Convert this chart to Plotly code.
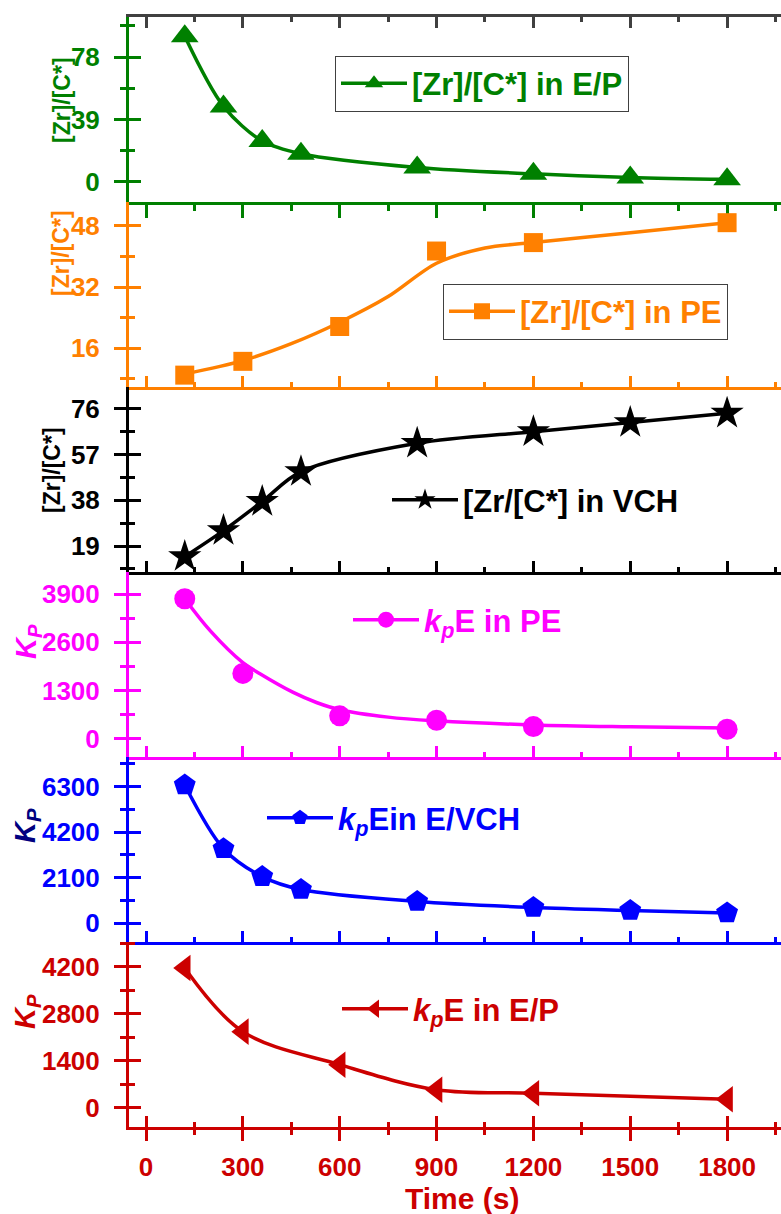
import plotly.graph_objects as go

# ---------------- data ----------------
time_zr_ep = [120, 240, 360, 480, 840, 1200, 1500, 1800]
zr_ep = [91.0, 47.2, 25.5, 17.6, 9.0, 5.0, 2.8, 1.6]

time_zr_pe = [120, 300, 600, 900, 1200, 1800]
zr_pe = [9.0, 12.6, 21.7, 41.4, 43.6, 48.8]
fit_time_zr_pe = [120, 300, 450, 600, 750, 900, 1050, 1200, 1500, 1800]
fit_zr_pe = [9.3, 12.8, 17.2, 22.8, 29.5, 38.2, 42.2, 43.6, 46.2, 48.8]

time_zr_vch = [120, 240, 360, 480, 840, 1200, 1500, 1800]
zr_vch = [14.6, 25.4, 37.5, 49.9, 61.7, 66.5, 70.3, 74.2]

time_kp_pe = [120, 300, 600, 900, 1200, 1800]
kp_pe = [3775, 1760, 615, 495, 325, 254]
fit_time_kp_pe = [120, 200, 300, 353, 456, 528, 600, 750, 900, 1200, 1500, 1800]
fit_kp_pe = [3775, 2900, 2050, 1750, 1246, 975, 780, 580, 480, 370, 318, 285]

time_kp_vch = [120, 240, 360, 480, 840, 1200, 1500, 1800]
kp_vch = [6370, 3432, 2146, 1549, 997, 721, 584, 469]

time_kp_ep = [120, 300, 600, 900, 1200, 1800]
kp_ep = [4161, 2270, 1287, 542, 438, 259]

x_tick_step = 300
y_ticks_step = [39, 16, 19, 1300, 2100, 1400]

legend_names = [
    "[Zr]/[C*] in E/P",
    "[Zr]/[C*] in PE",
    "[Zr/[C*] in VCH",
    "<i>k</i><sub><i>p</i></sub>E in PE",
    "<i>k</i><sub><i>p</i></sub>Ein E/VCH",
    "<i>k</i><sub><i>p</i></sub>E in E/P",
]
y_titles = ["[Zr]/[C*]", "[Zr]/[C*]", "[Zr]/[C*]",
            "<i>K<sub>P</sub></i>", "<i>K<sub>P</sub></i>", "<i>K<sub>P</sub></i>"]

# ---------------- style ----------------
FONT = "Liberation Sans, Arial, sans-serif"
GREEN, ORANGE, BLACK = "#008000", "#FF8000", "#000000"
MAGENTA, BLUE, RED = "#FF00FF", "#0000FF", "#CC0000"
NAVY, GREY = "#000080", "#404040"
colors = [GREEN, ORANGE, BLACK, MAGENTA, BLUE, RED]
title_colors = [GREEN, ORANGE, BLACK, MAGENTA, NAVY, RED]
symbols = ["triangle-up", "square", "star", "circle", "pentagon", "triangle-left"]
msizes = [24, 19, 25, 21, 23, 23]
smooth = [0.9, 0.9, 0.9, 1.0, 0.9, 1.0]
y_ranges = [[-12.6, 103.1], [5.9, 54.2], [8.2, 85.1],
            [-496, 4496], [-873, 7665], [-566, 4936]]
X_RANGE = [-52.7, 1967]

W, H = 781, 1214
ML, MR, MT, MB = 129, 0, 17, 87
PW, PH = W - ML - MR, H - MT - MB
LW = 3.5


def px_x(px):
    return (px - ML) / PW


def px_y(py):
    return (H - MB - py) / PH


series = [
    (time_zr_ep, zr_ep, None, None),
    (time_zr_pe, zr_pe, fit_time_zr_pe, fit_zr_pe),
    (time_zr_vch, zr_vch, None, None),
    (time_kp_pe, kp_pe, fit_time_kp_pe, fit_kp_pe),
    (time_kp_vch, kp_vch, None, None),
    (time_kp_ep, kp_ep, None, None),
]

fig = go.Figure()
layout = dict(
    width=W, height=H,
    margin=dict(l=ML, r=MR, t=MT, b=MB, pad=0),
    plot_bgcolor="white", paper_bgcolor="white",
    font=dict(family=FONT, weight="bold"),
    showlegend=True,
)

legend_pos = [  # (left px, center y px, boxed)
    (335, 83.5, True),
    (443, 311.5, True),
    (387, 500, False),
    (348, 620, False),
    (262, 818, False),
    (337, 1009, False),
]
title_pos = [(62, 100), (61, 253), (52, 470), (28, 642), (27, 825), (27, 1011)]
annotations = []

for i in range(6):
    n = i + 1
    xa = "x" if n == 1 else f"x{n}"
    ya = "y" if n == 1 else f"y{n}"
    c = colors[i]
    lg = "legend" if n == 1 else f"legend{n}"
    tx, ty, fx, fy = series[i]
    mk = dict(symbol=symbols[i], size=msizes[i], color=c, line=dict(width=0))
    if fx is None:
        fig.add_trace(go.Scatter(x=tx, y=ty, mode="lines+markers", name=legend_names[i],
                                 line=dict(color=c, width=LW, shape="spline", smoothing=smooth[i]),
                                 marker=mk, xaxis=xa, yaxis=ya, legend=lg))
    else:
        fig.add_trace(go.Scatter(x=fx, y=fy, mode="lines", showlegend=False,
                                 line=dict(color=c, width=LW, shape="spline", smoothing=smooth[i]),
                                 xaxis=xa, yaxis=ya))
        fig.add_trace(go.Scatter(x=tx, y=ty, mode="markers", showlegend=False,
                                 marker=mk, xaxis=xa, yaxis=ya))
        fig.add_trace(go.Scatter(x=[None], y=[None], mode="lines+markers", name=legend_names[i],
                                 line=dict(color=c, width=LW), marker=mk,
                                 xaxis=xa, yaxis=ya, legend=lg))
    # dummy trace for overlay y axis (inside half of crossing ticks)
    fig.add_trace(go.Scatter(x=[None], y=[None], xaxis=xa, yaxis=f"y{6 + n}",
                             showlegend=False, hoverinfo="skip"))

    dom = [(5 - i) / 6, (6 - i) / 6]
    layout["yaxis" if n == 1 else f"yaxis{n}"] = dict(
        domain=dom, anchor=xa, range=y_ranges[i], tick0=0, dtick=y_ticks_step[i],
        showgrid=False, zeroline=False, showline=True, linecolor=c, linewidth=3,
        ticks="outside", ticklen=12, tickwidth=3, tickcolor=c,
        minor=dict(dtick=y_ticks_step[i] / 2, ticks="outside", ticklen=6, tickwidth=3,
                   tickcolor=c, showgrid=False),
        tickfont=dict(family=FONT, size=26, color=c, weight="bold"),
        ticklabelstandoff=9,
    )
    layout[f"yaxis{6 + n}"] = dict(
        overlaying=ya, anchor=xa, side="left", range=y_ranges[i], tick0=0,
        dtick=y_ticks_step[i], showgrid=False, zeroline=False, showline=False,
        ticks="inside", ticklen=12, tickwidth=3, tickcolor=c, showticklabels=False,
        minor=dict(dtick=y_ticks_step[i] / 2, ticks="inside", ticklen=6, tickwidth=3,
                   tickcolor=c, showgrid=False),
    )
    xdict = dict(
        domain=[0, 1], anchor=ya, range=X_RANGE, tick0=0, dtick=x_tick_step,
        showgrid=False, zeroline=False, showline=True, linecolor=c, linewidth=3,
        tickwidth=3, tickcolor=c, showticklabels=False,
    )
    if n == 1:
        xdict.update(ticks="outside", ticklen=13,
                     minor=dict(dtick=150, ticks="outside", ticklen=6, tickwidth=3, tickcolor=c))
    elif n == 6:
        xdict.update(ticks="outside", ticklen=11, showticklabels=True,
                     tickfont=dict(family=FONT, size=26, color=c, weight="bold"),
                     ticklabelstandoff=4,
                     minor=dict(dtick=150, ticks="outside", ticklen=5, tickwidth=3, tickcolor=c))
    else:
        xdict.update(ticks="inside", ticklen=11,
                     minor=dict(dtick=150, ticks="inside", ticklen=5, tickwidth=3, tickcolor=c))
    if n > 1:
        xdict["matches"] = "x"
    layout["xaxis" if n == 1 else f"xaxis{n}"] = xdict

    lx, lyc, boxed = legend_pos[i]
    layout[lg] = dict(
        x=px_x(lx), y=px_y(lyc), xanchor="left", yanchor="middle",
        bgcolor="white" if boxed else "rgba(0,0,0,0)",
        bordercolor=GREY if boxed else "rgba(0,0,0,0)", borderwidth=1 if boxed else 0,
        font=dict(family=FONT, size=31, color=c, weight="bold"),
        itemwidth=66, itemsizing="trace", tracegroupgap=0,
    )

    tpx, tpy = title_pos[i]
    annotations.append(dict(
        xref="paper", yref="paper", x=px_x(tpx), y=px_y(tpy), xanchor="center",
        yanchor="middle", textangle=-90, showarrow=False, text=y_titles[i],
        font=dict(family=FONT, size=23 if i < 3 else 29, color=title_colors[i], weight="bold"),
    ))

# top frame line of panel 1 (dark grey, inward ticks)
fig.add_trace(go.Scatter(x=[None], y=[None], xaxis="x7", yaxis="y", showlegend=False,
                         hoverinfo="skip"))
layout["xaxis7"] = dict(
    overlaying="x", anchor="y", side="top", range=X_RANGE, tick0=0, dtick=x_tick_step,
    showgrid=False, zeroline=False, showline=True, linecolor=GREY, linewidth=3,
    ticks="inside", ticklen=11, tickwidth=3, tickcolor=GREY, showticklabels=False,
    minor=dict(dtick=150, ticks="inside", ticklen=5, tickwidth=3, tickcolor=GREY),
)
# inside half of the crossing ticks on the bottom time axis
fig.add_trace(go.Scatter(x=[None], y=[None], xaxis="x8", yaxis="y6", showlegend=False,
                         hoverinfo="skip"))
layout["xaxis8"] = dict(
    overlaying="x6", anchor="y6", side="bottom", range=X_RANGE, tick0=0, dtick=x_tick_step,
    showgrid=False, zeroline=False, showline=False,
    ticks="inside", ticklen=11, tickwidth=3, tickcolor=RED, showticklabels=False,
    minor=dict(dtick=150, ticks="inside", ticklen=5, tickwidth=3, tickcolor=RED),
)

annotations.append(dict(
    xref="paper", yref="paper", x=px_x(461.7), y=px_y(1198), xanchor="center",
    yanchor="middle", showarrow=False, text="Time (s)",
    font=dict(family=FONT, size=30, color=RED, weight="bold"),
))
layout["annotations"] = annotations

fig.update_layout(**layout)
fig.write_html("out.html")
